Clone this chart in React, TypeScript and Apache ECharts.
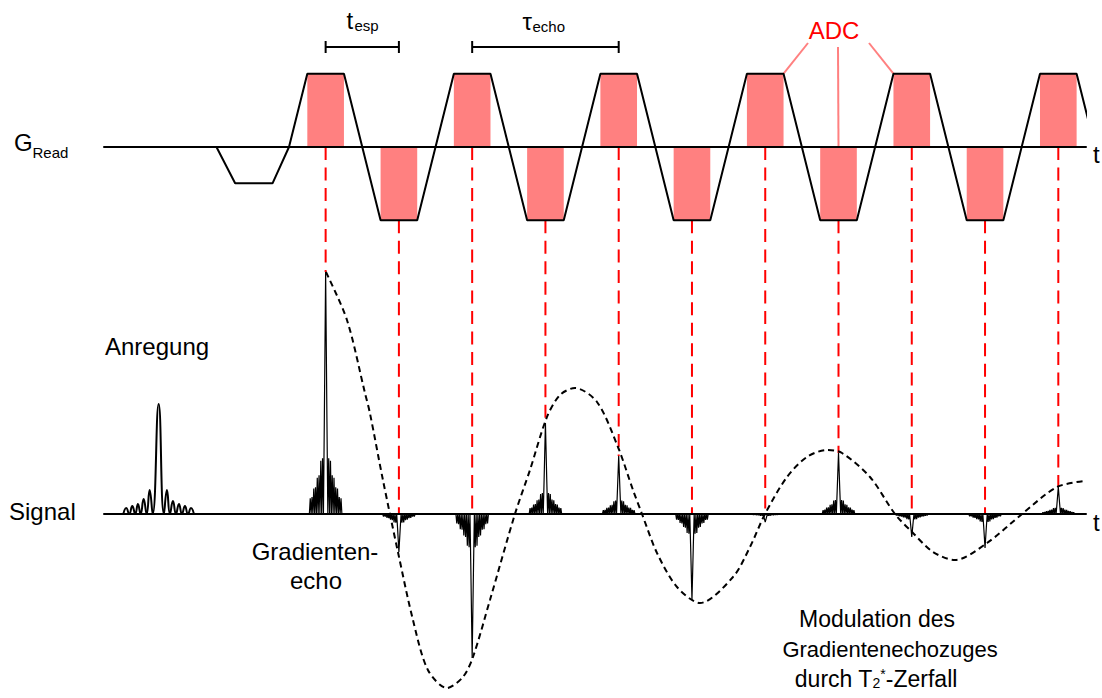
import { useEffect, useRef } from "react";
import * as echarts from "echarts";

const FONT = "'Liberation Sans', Arial, sans-serif";

// ---------------- data (time unit u = echo spacing; echo k centred at u = k) ----------------
const ECHO_TIMES = [0, 1, 2, 3, 4, 5, 6, 7, 8, 9, 10];
const ECHO_AMPS = [242, -38, -144, 91, 58, -86, -8, 61, -23, -34, 27];
const ADC_POLARITY = [1, -1, 1, -1, 1, -1, 1, -1, 1, -1, 1];
const ADC_HALF = 0.25;

// read-gradient waveform corners
const GRAD_T = [-1.49, -1.235, -0.725, -0.5, -0.25, 0.25, 0.75, 1.25, 1.75, 2.25, 2.75, 3.25, 3.75, 4.25, 4.75, 5.25, 5.75, 6.25, 6.75, 7.25, 7.75, 8.25, 8.75, 9.25, 9.75, 10.25, 10.75];
const GRAD_G = [0, -0.495, -0.495, 0, 1, 1, -1, -1, 1, 1, -1, -1, 1, 1, -1, -1, 1, 1, -1, -1, 1, 1, -1, -1, 1, 1, -1];

// excitation pulse (|sinc| lobes)
const PULSE_T = [-2.762, -2.721, -2.68, -2.639, -2.598, -2.562, -2.525, -2.484, -2.443, -2.402, -2.361, -2.279, -2.207, -2.166, -2.125, -2.084, -2.043, -2.002, -1.961, -1.92, -1.879, -1.838, -1.797];
const PULSE_S = [0, 6, 0, 8, 0, 10, 0, 15, 0, 24, 0, 110, 0, 24, 0, 13, 0, 10, 0, 8, 0, 6, 0];

// normalised echo shape (right half, mirrored): main lobe then ringing
const ECHO_HALF_DT = [0, 0.018, 0.03, 0.042, 0.054, 0.066, 0.078, 0.09, 0.102, 0.114, 0.126, 0.138, 0.15, 0.162, 0.174, 0.186, 0.198, 0.21, 0.222];
const ECHO_HALF_V = [1, 0.38, 0, 0.23, 0, 0.22, 0, 0.16, 0, 0.15, 0, 0.11, 0, 0.105, 0, 0.07, 0, 0.065, 0];

// T2* modulation envelope (dashed)
const ENV_T = [0.004, 0.291, 0.537, 0.604, 0.782, 0.987, 1.192, 1.396, 1.656, 1.874, 2.011, 2.243, 2.584, 2.789, 3.021, 3.199, 3.403, 3.704, 3.99, 4.195, 4.318, 4.523, 4.796, 5.11, 5.56, 5.792, 5.997, 6.297, 6.57, 6.843, 7.048, 7.43, 7.771, 8.017, 8.29, 8.59, 9.027, 9.505, 9.982, 10.364];
const ENV_S = [242, 194, 121, 101, 34, -38, -106, -156, -174, -163, -143, -86, 0, 44, 97, 119, 126, 112, 67, 24, 0, -39, -73, -89, -63, -33, 0, 37, 57, 64, 61, 37, 0, -19, -38, -46, -29, 0, 27, 33];

// timing brackets (t_esp, tau_echo)
const BRACKETS = [[0, 1], [2, 4]];
// ADC leader targets (u, G)
const ADC_LEADER_TARGETS = [[6.25, 1], [7, 0], [7.75, 1]];

// ---------------- layout ----------------
const LEFT = 104, WIDTH = 982, U_MIN = -3.025, U_MAX = 10.378;
const G_TOP = 59, G_H = 176, G_MIN = -1.2, G_MAX = 1.2;
const S_TOP = 254, S_H = 440, S_MIN = -180, S_MAX = 260;
const BRACKET_Y = 47;
const ADC_LEADER_FROM = [[808, 43], [838, 47], [869, 43]];

const gPix = (g: number) => G_TOP + ((G_MAX - g) / (G_MAX - G_MIN)) * G_H;

function axisX(i: number) {
  return {
    type: "value", gridIndex: i, min: U_MIN, max: U_MAX, z: 10,
    axisLine: { show: true, onZero: true, lineStyle: { color: "#000", width: 2 } },
    axisTick: { show: false }, axisLabel: { show: false }, splitLine: { show: false },
  };
}

function txt(text: string, x: number, y: number, size: number, align = "left", fill = "#000", rich?: any) {
  return {
    type: "text", x, y, silent: true, z: 100,
    style: { text, fontSize: size, fontFamily: FONT, fill, align, verticalAlign: "middle", ...(rich ? { rich } : {}) },
  };
}

function buildOption() {
  const half = ECHO_HALF_DT.map((d, i) => [d, ECHO_HALF_V[i]]);
  const shape = [...half.slice(1).reverse().map(([d, v]) => [-d, v]), ...half];

  const series: any[] = [];
  // red dashed guides
  series.push({
    type: "custom", xAxisIndex: 1, yAxisIndex: 1, z: 1, silent: true,
    encode: { x: 0, y: 2 },
    data: ECHO_TIMES.map((t, i) => [t, ADC_POLARITY[i] > 0 ? 0 : -1, Math.max(ECHO_AMPS[i], 0)]),
    renderItem: (_p: any, api: any) => {
      const end = api.coord([api.value(0), api.value(2)]);
      const y0 = gPix(api.value(1));
      return {
        type: "line",
        shape: { x1: end[0], y1: y0, x2: end[0], y2: end[1] },
        style: { stroke: "#ff0000", lineWidth: 2, lineDash: [13, 7.5] },
      };
    },
  });
  // ADC windows
  series.push({
    type: "custom", xAxisIndex: 0, yAxisIndex: 0, z: 2, silent: true,
    data: ECHO_TIMES.map((t, i) => [t, ADC_POLARITY[i]]),
    renderItem: (_p: any, api: any) => {
      const t = api.value(0), p = api.value(1);
      const a = api.coord([t - ADC_HALF, p]);
      const b = api.coord([t + ADC_HALF, 0]);
      return {
        type: "rect",
        shape: { x: Math.min(a[0], b[0]), y: Math.min(a[1], b[1]), width: Math.abs(b[0] - a[0]), height: Math.abs(b[1] - a[1]) },
        style: { fill: "#ff8080" },
      };
    },
  });
  // gradient waveform
  series.push({
    type: "line", xAxisIndex: 0, yAxisIndex: 0, z: 3, silent: true, symbol: "none",
    data: GRAD_T.map((t, i) => [t, GRAD_G[i]]),
    lineStyle: { color: "#000", width: 2 },
  });
  // brackets
  series.push({
    type: "custom", xAxisIndex: 0, yAxisIndex: 0, z: 3, silent: true,
    data: BRACKETS,
    renderItem: (_p: any, api: any) => {
      const x0 = api.coord([api.value(0), 0])[0];
      const x1 = api.coord([api.value(1), 0])[0];
      const st = { stroke: "#000", lineWidth: 2 };
      return {
        type: "group",
        children: [
          { type: "line", shape: { x1: x0, y1: BRACKET_Y, x2: x1, y2: BRACKET_Y }, style: st },
          { type: "line", shape: { x1: x0, y1: BRACKET_Y - 6, x2: x0, y2: BRACKET_Y + 6 }, style: st },
          { type: "line", shape: { x1: x1, y1: BRACKET_Y - 6, x2: x1, y2: BRACKET_Y + 6 }, style: st },
        ],
      };
    },
  });
  // ADC leaders
  series.push({
    type: "custom", xAxisIndex: 0, yAxisIndex: 0, z: 3, silent: true,
    data: ADC_LEADER_TARGETS,
    renderItem: (p: any, api: any) => {
      const e = api.coord([api.value(0), api.value(1)]);
      const f = ADC_LEADER_FROM[p.dataIndex];
      return { type: "line", shape: { x1: f[0], y1: f[1], x2: e[0], y2: e[1] }, style: { stroke: "#ff8080", lineWidth: 2 } };
    },
  });
  // excitation pulse
  series.push({
    type: "line", xAxisIndex: 1, yAxisIndex: 1, z: 4, silent: true, symbol: "none", smooth: 0.5,
    data: PULSE_T.map((t, i) => [t, PULSE_S[i]]),
    lineStyle: { color: "#000", width: 2 },
  });
  // echoes
  ECHO_TIMES.forEach((t0, k) => {
    series.push({
      type: "line", xAxisIndex: 1, yAxisIndex: 1, z: 4, silent: true, symbol: "none",
      data: shape.map(([d, v]) => [t0 + d, ECHO_AMPS[k] * v]),
      lineStyle: { color: "#000", width: 1.2 },
    });
  });
  // envelope
  series.push({
    type: "line", xAxisIndex: 1, yAxisIndex: 1, z: 5, silent: true, symbol: "none", smooth: 0.3,
    data: ENV_T.map((t, i) => [t, ENV_S[i]]),
    lineStyle: { color: "#000", width: 2, type: [6, 4] },
  });

  const t2rich = {
    sub: { fontSize: 14, fontFamily: FONT, fill: "#000", lineHeight: 6, verticalAlign: "bottom" },
    sup: { fontSize: 14, fontFamily: FONT, fill: "#000", lineHeight: 10, verticalAlign: "top" },
  };

  const texts = [
    txt("G", 14, 142, 24),
    txt("Read", 32.5, 152.5, 15),
    txt("t", 346.5, 20.7, 24),
    txt("esp", 354.5, 25.8, 15),
    txt("τ", 522.5, 21, 24),
    txt("echo", 532.5, 26.5, 15),
    txt("ADC", 834, 30, 24, "center", "#ff0000"),
    txt("Anregung", 105, 346.7, 24),
    txt("Signal", 9, 511.7, 24),
    txt("Gradienten-", 315, 551.7, 24, "center"),
    txt("echo", 316, 580, 24, "center"),
    txt("t", 1093, 154.7, 24),
    txt("t", 1093, 522.7, 24),
    txt("Modulation des", 877, 618.8, 23, "center"),
    txt("Gradientenechozuges", 890, 649.1, 22, "center"),
    txt("durch T{sub|2}{sup|*}-Zerfall", 876, 678.8, 23, "center", "#000", t2rich),
  ];

  return {
    animation: false,
    backgroundColor: "#fff",
    grid: [
      { left: LEFT, top: G_TOP, width: WIDTH, height: G_H },
      { left: LEFT, top: S_TOP, width: WIDTH, height: S_H },
    ],
    xAxis: [axisX(0), axisX(1)],
    yAxis: [
      { type: "value", gridIndex: 0, min: G_MIN, max: G_MAX, show: false },
      { type: "value", gridIndex: 1, min: S_MIN, max: S_MAX, show: false },
    ],
    series,
    graphic: { elements: texts },
  };
}

export default function App() {
  const ref = useRef<HTMLDivElement>(null);
  useEffect(() => {
    const chart = echarts.init(ref.current!, null, { renderer: "svg" });
    chart.setOption(buildOption() as any);
    return () => chart.dispose();
  }, []);
  return (
    <div
      ref={ref}
      style={{ position: "absolute", left: 0, top: 0, width: 1102, height: 698, background: "#fff" }}
    />
  );
}
